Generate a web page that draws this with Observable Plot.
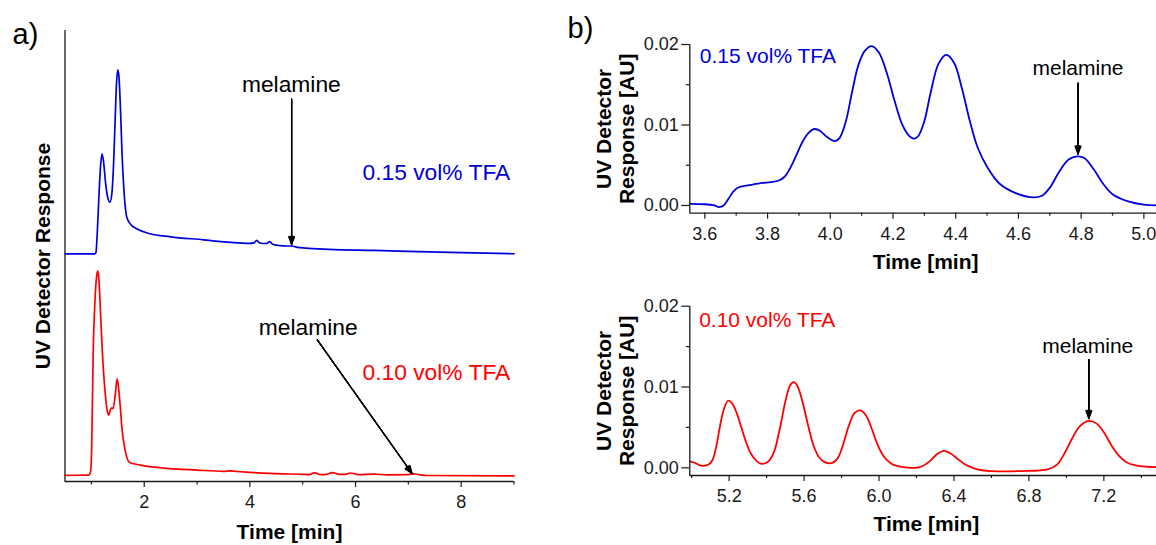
<!DOCTYPE html>
<html><head><meta charset="utf-8">
<script src="https://cdn.jsdelivr.net/npm/d3@7"></script>
<script src="https://cdn.jsdelivr.net/npm/@observablehq/plot@0.6"></script>
<style>
html,body{margin:0;padding:0;background:#fff;overflow:hidden;width:1156px;height:545px;}
#wrap{position:relative;width:1156px;height:545px;overflow:hidden;font-family:"Liberation Sans",Arial,sans-serif;}
.panel{position:absolute;}
</style></head><body><div id="wrap">
<div class="panel" id="pa" style="left:0;top:0;width:560px;height:545px"></div>
<div class="panel" id="pb1" style="left:560px;top:0;width:640px;height:280px"></div>
<div class="panel" id="pb2" style="left:560px;top:280px;width:640px;height:265px"></div>
</div>
<script>
// ---------- DATA ----------
// Panel a: full chromatograms (time [min], response above own baseline, arbitrary units)
const fullTFA015 = [[0.5,0],[1.06,0],[1.085,1],[1.11,20],[1.14,55],[1.17,85],[1.20,100],[1.23,92],[1.27,70],[1.31,56],[1.352,51.6],[1.39,62],[1.42,90],[1.45,135],[1.475,170],[1.499,184],[1.52,178],[1.55,145],[1.58,100],[1.62,60],[1.67,36.6],[1.75,29],[1.86,25],[2.11,20],[2.5,17],[3.12,14],[3.5,12],[3.76,11],[4.0,10.5],[4.08,11],[4.13,13.5],[4.18,11],[4.25,10.3],[4.32,10.5],[4.375,12.2],[4.43,9.5],[4.55,8.3],[4.7,7.8],[4.79,7.8],[4.9,6.5],[5.05,5.7],[5.5,4.5],[6.34,3.4],[7.0,2.5],[8.0,1.2],[9.0,0]];
const fullTFA010 = [[0.5,0.5],[0.95,0.7],[0.98,3],[1.004,25],[1.034,125],[1.067,175],[1.10,200],[1.118,205],[1.14,198],[1.162,175],[1.206,125],[1.257,85],[1.30,65],[1.328,60.7],[1.36,66],[1.385,68],[1.41,67],[1.45,80],[1.486,97],[1.51,90],[1.545,70],[1.575,49],[1.638,25.7],[1.72,13.4],[1.8,12],[2.0,10],[2.37,7.7],[3.0,5.7],[3.5,4.5],[3.62,5],[3.75,4.3],[4.0,3.5],[4.6,2],[5.0,1.5],[5.12,1.2],[5.22,3],[5.35,1.2],[5.45,1.5],[5.56,3.2],[5.7,1.5],[5.8,1.5],[5.91,2.8],[6.05,1.2],[6.35,1.6],[6.6,1],[7.0,1.2],[7.1,2],[7.2,1.2],[7.35,0.3],[9,0]];
const offsetTFA015 = 227.7;   // vertical stacking offset of the upper trace
const offsetTFA010 = 5.7;

// Panel b: zoomed chromatograms (time [min], UV response [AU])
const zoomTFA015 = [[3.552,0.0002],[3.6,0.00015],[3.63,0.0],[3.645,-0.0002],[3.66,0.0],[3.675,0.0008],[3.69,0.0017],[3.705,0.0022],[3.723,0.0024],[3.753,0.0026],[3.783,0.0028],[3.81,0.0029],[3.836,0.0031],[3.855,0.0036],[3.87,0.0045],[3.89,0.0061],[3.91,0.0078],[3.93,0.0090],[3.95,0.0095],[3.97,0.0092],[3.99,0.0085],[4.015,0.0080],[4.03,0.0084],[4.05,0.0105],[4.07,0.0142],[4.09,0.0175],[4.11,0.0192],[4.132,0.0198],[4.155,0.0190],[4.18,0.0165],[4.205,0.0130],[4.23,0.0100],[4.25,0.0087],[4.266,0.0083],[4.28,0.0086],[4.3,0.0105],[4.32,0.0140],[4.345,0.0176],[4.37,0.0187],[4.395,0.0177],[4.42,0.0145],[4.445,0.0105],[4.47,0.0072],[4.5,0.0048],[4.54,0.0027],[4.6,0.0014],[4.648,0.0010],[4.675,0.0012],[4.70,0.0022],[4.73,0.0042],[4.76,0.0057],[4.787,0.0061],[4.81,0.0059],[4.84,0.0045],[4.87,0.0027],[4.9,0.0014],[4.95,0.0005],[5.0,0.0001],[5.1,0]];
const zoomTFA010 = [[4.99,0.0008],[5.02,0.0006],[5.045,0.0003],[5.065,0.00025],[5.09,0.0004],[5.11,0.0009],[5.13,0.0025],[5.15,0.0050],[5.17,0.0071],[5.194,0.0083],[5.215,0.0080],[5.24,0.0068],[5.265,0.0050],[5.29,0.0032],[5.315,0.0018],[5.34,0.0010],[5.36,0.0006],[5.38,0.0005],[5.41,0.0008],[5.44,0.0020],[5.47,0.0048],[5.50,0.0082],[5.525,0.0102],[5.545,0.0106],[5.565,0.0101],[5.59,0.0083],[5.62,0.0054],[5.65,0.0028],[5.68,0.0013],[5.71,0.0007],[5.75,0.0006],[5.78,0.0012],[5.81,0.0030],[5.84,0.0053],[5.87,0.0068],[5.9,0.0071],[5.93,0.0065],[5.96,0.0049],[5.99,0.0030],[6.02,0.0016],[6.06,0.0006],[6.1,0.0002],[6.19,0.0],[6.23,0.0002],[6.27,0.0008],[6.31,0.0017],[6.346,0.0021],[6.38,0.0018],[6.42,0.0011],[6.46,0.0004],[6.5,0.0],[6.55,-0.0003],[6.6,-0.0004],[6.757,-0.0004],[6.9,-0.0002],[6.95,0.0004],[6.99,0.0018],[7.03,0.0036],[7.07,0.0051],[7.12,0.0058],[7.16,0.0055],[7.2,0.0044],[7.24,0.0028],[7.28,0.0015],[7.32,0.0007],[7.37,0.0003],[7.45,0.0001],[7.6,0.0001]];

// Tick values
const ticksA = [2,4,6,8], minorA = [1,3,5,7,9];
const ticksB1 = [3.6,3.8,4.0,4.2,4.4,4.6,4.8,5.0], minorB1 = [3.7,3.9,4.1,4.3,4.5,4.7,4.9,5.1];
const ticksB2 = [5.2,5.6,6.0,6.4,6.8,7.2], minorB2 = [5.0,5.4,5.8,6.2,6.6,7.0,7.4];
const ticksY = [0,0.01,0.02], minorY = [0.005,0.015];

// Labels
const seriesLabels = ["0.15 vol% TFA", "0.10 vol% TFA"];
const peakLabel = "melamine";
const xLabel = "Time [min]";
const yLabelA = "UV Detector Response";
const yLabelB = "UV Detector\nResponse [AU]";

// ---------- STYLE ----------
const BLUE = "#0000dd", RED = "#ff0000", AX = "#1a1a1a";
const FONT = "'Liberation Sans', Arial, sans-serif";
const svgStyle = {fontFamily: FONT, background: "transparent", overflow: "visible", maxWidth: "none", color: AX};

function headArrow(data, o) {
  return [42, 30, 18, 8].map(a => Plot.arrow(data, {...o, headAngle: a, headLength: 10, strokeWidth: 1.25, stroke: "#000"}));
}

// ---------- PANEL a ----------
const pa = Plot.plot({
  width: 560, height: 545,
  marginLeft: 64.5, marginRight: 46.5, marginTop: 30, marginBottom: 64,
  x: {domain: [0.5, 9]},
  y: {domain: [0, 451], axis: null},
  style: svgStyle,
  marks: [
    Plot.line(fullTFA010, {x: d => d[0], y: d => d[1] + offsetTFA010, stroke: RED, strokeWidth: 1.7, curve: "monotone-x"}),
    Plot.line(fullTFA015, {x: d => d[0], y: d => d[1] + offsetTFA015, stroke: BLUE, strokeWidth: 1.7, curve: "monotone-x"}),
    Plot.ruleX([0.5], {stroke: AX, strokeWidth: 1.3}),
    Plot.ruleY([0], {stroke: AX, strokeWidth: 1.3}),
    Plot.axisX(ticksA, {tickSize: 6, tickPadding: 8, fontSize: 18, label: null, color: AX, strokeWidth: 1.2}),
    Plot.axisX(minorA, {tickSize: 3.5, tickFormat: () => "", label: null, color: AX, strokeWidth: 1.2}),
    Plot.text([xLabel], {frameAnchor: "bottom", textAnchor: "middle", lineAnchor: "middle", dy: 51, fontSize: 21, fontWeight: "bold", fill: "#000"}),
    Plot.text([yLabelA], {frameAnchor: "left", textAnchor: "middle", lineAnchor: "middle", rotate: -90, dx: -21.5, fontSize: 21, fontWeight: "bold", fill: "#000"}),
    Plot.text(["a)"], {frameAnchor: "top-left", lineAnchor: "middle", dx: -52.5, dy: 4, fontSize: 29, textAnchor: "start", fill: "#000"}),
    Plot.text([seriesLabels[0]], {x: 8.93, y: 308.6, textAnchor: "end", fontSize: 22.8, fill: BLUE}),
    Plot.text([seriesLabels[1]], {x: 8.93, y: 108.4, textAnchor: "end", fontSize: 22.8, fill: RED}),
    Plot.text([peakLabel], {x: 4.785, y: 396.5, fontSize: 22.8, fill: "#000"}),
    Plot.text([peakLabel], {x: 5.105, y: 153.4, fontSize: 22.8, fill: "#000"}),
    ...headArrow([{x1: 4.79, y1: 382.3, x2: 4.79, y2: 237}], {x1: "x1", y1: "y1", x2: "x2", y2: "y2"}),
    ...headArrow([{x1: 5.276, y1: 141.6, x2: 7.07, y2: 8}], {x1: "x1", y1: "y1", x2: "x2", y2: "y2"})
  ]
});
document.getElementById("pa").appendChild(pa);

// ---------- PANEL b (top) ----------
const pb1 = Plot.plot({
  width: 631, height: 280,
  marginLeft: 129.3, marginRight: 10, marginTop: 44, marginBottom: 67.3,
  x: {domain: [3.552, 5.12]},
  y: {domain: [-0.00096, 0.02]},
  style: svgStyle,
  marks: [
    Plot.line(zoomTFA015, {x: d => d[0], y: d => d[1], stroke: BLUE, strokeWidth: 1.8, curve: "catmull-rom"}),
    Plot.ruleX([3.552], {stroke: AX, strokeWidth: 1.3}),
    Plot.ruleY([-0.00096], {stroke: AX, strokeWidth: 1.3}),
    Plot.axisX(ticksB1, {tickSize: 6, tickPadding: 8, fontSize: 18, tickFormat: d3.format(".1f"), label: null, color: AX, strokeWidth: 1.2}),
    Plot.axisX(minorB1, {tickSize: 3, tickFormat: () => "", label: null, color: AX, strokeWidth: 1.2}),
    Plot.axisY(ticksY, {tickSize: 8, tickPadding: 3, fontSize: 18, tickFormat: d3.format(".2f"), label: null, color: AX, strokeWidth: 1.2}),
    Plot.axisY(minorY, {tickSize: 3.5, tickFormat: () => "", label: null, color: AX, strokeWidth: 1.2}),
    Plot.text([xLabel], {x: 4.304, frameAnchor: "bottom", textAnchor: "middle", lineAnchor: "middle", dy: 49, fontSize: 21, fontWeight: "bold", fill: "#000"}),
    Plot.text([yLabelB], {frameAnchor: "left", textAnchor: "middle", lineAnchor: "middle", rotate: -90, dx: -74.8, lineHeight: 1.1, fontSize: 21, fontWeight: "bold", fill: "#000"}),
    Plot.text(["b)"], {frameAnchor: "top-left", lineAnchor: "middle", dx: -122.3, dy: -16, fontSize: 29, textAnchor: "start", fill: "#000"}),
    Plot.text([seriesLabels[0]], {x: 3.584, y: 0.0185, textAnchor: "start", fontSize: 21, fill: BLUE}),
    Plot.text([peakLabel], {x: 4.79, y: 0.0171, fontSize: 21, fill: "#000"}),
    ...headArrow([{x1: 4.79, y1: 0.0152, x2: 4.79, y2: 0.0064}], {x1: "x1", y1: "y1", x2: "x2", y2: "y2"})
  ]
});
document.getElementById("pb1").appendChild(pb1);

// ---------- PANEL b (bottom) ----------
const pb2 = Plot.plot({
  width: 631, height: 265,
  marginLeft: 129.3, marginRight: 12.7, marginTop: 25.7, marginBottom: 70,
  x: {domain: [4.99, 7.6]},
  y: {domain: [-0.00095, 0.02]},
  style: svgStyle,
  marks: [
    Plot.line(zoomTFA010, {x: d => d[0], y: d => d[1], stroke: RED, strokeWidth: 1.8, curve: "catmull-rom"}),
    Plot.ruleX([4.99], {stroke: AX, strokeWidth: 1.3}),
    Plot.ruleY([-0.00095], {stroke: AX, strokeWidth: 1.3}),
    Plot.axisX(ticksB2, {tickSize: 6, tickPadding: 8, fontSize: 18, tickFormat: d3.format(".1f"), label: null, color: AX, strokeWidth: 1.2}),
    Plot.axisX(minorB2, {tickSize: 3, tickFormat: () => "", label: null, color: AX, strokeWidth: 1.2}),
    Plot.axisY(ticksY, {tickSize: 8, tickPadding: 3, fontSize: 18, tickFormat: d3.format(".2f"), label: null, color: AX, strokeWidth: 1.2}),
    Plot.axisY(minorY, {tickSize: 3.5, tickFormat: () => "", label: null, color: AX, strokeWidth: 1.2}),
    Plot.text([xLabel], {x: 6.253, frameAnchor: "bottom", textAnchor: "middle", lineAnchor: "middle", dy: 48.3, fontSize: 21, fontWeight: "bold", fill: "#000"}),
    Plot.text([yLabelB], {frameAnchor: "left", textAnchor: "middle", lineAnchor: "middle", rotate: -90, dx: -74.8, lineHeight: 1.1, fontSize: 21, fontWeight: "bold", fill: "#000"}),
    Plot.text([seriesLabels[1]], {x: 5.04, y: 0.01823, textAnchor: "start", fontSize: 21, fill: RED}),
    Plot.text([peakLabel], {x: 7.114, y: 0.0151, fontSize: 21, fill: "#000"}),
    ...headArrow([{x1: 7.12, y1: 0.0134, x2: 7.12, y2: 0.0061}], {x1: "x1", y1: "y1", x2: "x2", y2: "y2"})
  ]
});
document.getElementById("pb2").appendChild(pb2);
</script></body></html>
